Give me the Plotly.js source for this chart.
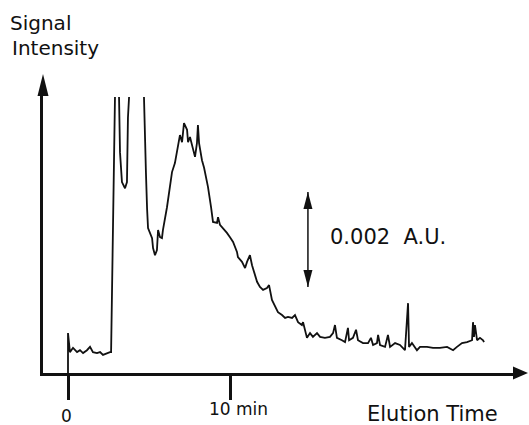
<!DOCTYPE html>
<html>
<head>
<meta charset="utf-8">
<script src="https://cdn.plot.ly/plotly-3.0.1.min.js"></script>
<style>
  html, body { margin: 0; padding: 0; background: #ffffff; }
  #chart { width: 529px; height: 425px; }
</style>
</head>
<body>
<div id="chart"></div>
<script>
// Elution time (min) and detector signal (mAU); null = off-scale (clipped) part of the trace
const elutionTime = [0, 0, 0.12, 0.31, 0.56, 0.74, 0.93, 1.17, 1.36, 1.54,
  1.79, 1.98, 2.16, 2.41, 2.59, 2.66, 2.72, 2.84, 2.90, 3.02,
  3.15, 3.21, 3.33, 3.52, 3.64, 3.70, 3.77, 4.20, 4.69, 4.75,
  4.81, 4.88, 4.94, 5.19, 5.25, 5.37, 5.49, 5.56, 5.68, 5.80,
  5.86, 6.11, 6.30, 6.42, 6.60, 6.79, 6.91, 7.04, 7.16, 7.35,
  7.41, 7.53, 7.72, 7.84, 7.96, 8.02, 8.09, 8.27, 8.40, 8.52,
  8.64, 8.83, 8.95, 9.20, 9.26, 9.38, 9.57, 9.81, 10.00, 10.19,
  10.43, 10.49, 10.74, 10.93, 11.05, 11.23, 11.36, 11.54, 11.67, 11.85,
  12.04, 12.28, 12.41, 12.59, 12.78, 12.96, 13.21, 13.40, 13.58, 13.83,
  14.01, 14.20, 14.44, 14.51, 14.75, 14.94, 15.12, 15.37, 15.56, 15.86,
  16.17, 16.36, 16.48, 16.60, 16.91, 17.10, 17.28, 17.35, 17.59, 17.78,
  17.90, 18.21, 18.52, 18.70, 18.83, 19.07, 19.14, 19.26, 19.57, 19.75,
  19.88, 20.19, 20.49, 20.80, 20.99, 21.05, 21.23, 21.54, 21.73, 22.16,
  22.53, 22.96, 23.40, 23.77, 24.01, 24.32, 24.63, 24.94, 25.00, 25.06,
  25.12, 25.25, 25.43, 25.62, 25.68];

const signal = [0, 0.84, 0.44, 0.53, 0.44, 0.48, 0.42, 0.48, 0.55, 0.44,
  0.42, 0.44, 0.38, 0.42, 0.44, 0.44, 2.06, 4.59, 5.81, null,
  5.81, 4.65, 4.02, 3.89, 4.02, 5.37, 5.81, null, 5.81, 4.80,
  4.23, 3.47, 3.05, 2.84, 2.63, 2.48, 2.59, 3.01, 2.86, 2.84,
  3.01, 3.49, 3.92, 4.23, 4.42, 4.84, 5.01, 4.86, 5.26, 5.12,
  4.86, 4.97, 4.69, 4.55, 4.84, 5.22, 4.84, 4.48, 4.32, 4.11,
  3.92, 3.49, 3.18, 3.16, 3.28, 3.12, 3.05, 2.95, 2.86, 2.76,
  2.55, 2.44, 2.34, 2.21, 2.34, 2.48, 2.27, 2.06, 1.92, 1.81,
  1.75, 1.79, 1.85, 1.54, 1.39, 1.28, 1.22, 1.16, 1.18, 1.16,
  1.22, 1.07, 1.01, 1.07, 0.74, 0.84, 0.76, 0.84, 0.76, 0.74,
  0.76, 0.84, 1.01, 0.74, 0.69, 0.65, 0.95, 0.69, 0.74, 0.91,
  0.69, 0.63, 0.63, 0.74, 0.59, 0.63, 0.80, 0.59, 0.55, 0.80,
  0.55, 0.63, 0.59, 0.48, 1.47, 0.55, 0.63, 0.48, 0.55, 0.55,
  0.53, 0.53, 0.55, 0.48, 0.55, 0.63, 0.65, 0.69, 1.07, 0.76,
  1.01, 0.69, 0.74, 0.69, 0.65];

// Tick labels
const tickValues = [0, 10];
const tickLabels = ["0", "10 min"];

// Scale bar: 0.002 A.U. = 2 mAU
const scaleBarTime = 14.81;
const scaleBarRange = [1.81, 3.81];
const scaleBarLabel = "0.002\u00a0 A.U.";

const axisTitleX = "Elution Time";
const axisTitleY = ["Signal", "Intensity"];

const FONT = "DejaVu Sans, sans-serif";
const INK = "#111111";

const trace = {
  x: elutionTime,
  y: signal,
  type: "scatter",
  mode: "lines",
  connectgaps: false,
  line: { color: INK, width: 1.8 },
  hoverinfo: "skip"
};

const shapes = [
  // y-axis arrowhead
  { type: "path", xref: "paper", yref: "paper", xsizemode: "pixel", ysizemode: "pixel",
    xanchor: 0, yanchor: 1, path: "M -5.5,-1 L 0,21 L 5.5,-1 Z",
    fillcolor: INK, line: { width: 0 } },
  // x-axis arrowhead
  { type: "path", xref: "paper", yref: "paper", xsizemode: "pixel", ysizemode: "pixel",
    xanchor: 1, yanchor: 0, path: "M -1,6.5 L 14,0 L -1,-6.5 Z",
    fillcolor: INK, line: { width: 0 } },
  // scale bar line
  { type: "line", xref: "x", yref: "y", x0: scaleBarTime, x1: scaleBarTime,
    y0: scaleBarRange[0], y1: scaleBarRange[1], line: { color: INK, width: 1.5 } },
  // scale bar arrowheads
  { type: "path", xref: "x", yref: "y", xsizemode: "pixel", ysizemode: "pixel",
    xanchor: scaleBarTime, yanchor: scaleBarRange[1], path: "M 0,0 L -4.5,-17 L 4.5,-17 Z",
    fillcolor: INK, line: { width: 0 } },
  { type: "path", xref: "x", yref: "y", xsizemode: "pixel", ysizemode: "pixel",
    xanchor: scaleBarTime, yanchor: scaleBarRange[0], path: "M 0,0 L -4.5,17 L 4.5,17 Z",
    fillcolor: INK, line: { width: 0 } }
];

const annotations = [
  { text: axisTitleY[0], xref: "paper", yref: "paper", x: 0, y: 1, xanchor: "left", yanchor: "middle",
    xshift: -35, yshift: 72, showarrow: false, font: { family: FONT, size: 20, color: INK } },
  { text: axisTitleY[1], xref: "paper", yref: "paper", x: 0, y: 1, xanchor: "left", yanchor: "middle",
    xshift: -33, yshift: 47, showarrow: false, font: { family: FONT, size: 20, color: INK } },
  { text: axisTitleX, xref: "paper", yref: "paper", x: 1, y: 0, xanchor: "right", yanchor: "middle",
    xshift: -14, yshift: -41, showarrow: false, font: { family: FONT, size: 21, color: INK } },
  { text: tickLabels[0], xref: "x", yref: "paper", x: tickValues[0], y: 0, xanchor: "center", yanchor: "middle",
    xshift: -2, yshift: -43, showarrow: false, font: { family: FONT, size: 17, color: INK } },
  { text: tickLabels[1], xref: "x", yref: "paper", x: tickValues[1], y: 0, xanchor: "left", yanchor: "middle",
    xshift: -23, yshift: -36, showarrow: false, font: { family: FONT, size: 17, color: INK } },
  { text: scaleBarLabel, xref: "x", yref: "y", x: scaleBarTime, y: (scaleBarRange[0] + scaleBarRange[1]) / 2,
    xanchor: "left", yanchor: "middle", xshift: 20, yshift: 3, showarrow: false,
    font: { family: FONT, size: 21, color: INK } }
];

const layout = {
  width: 529,
  height: 425,
  margin: { l: 43, r: 15, t: 95, b: 52, pad: 0 },
  paper_bgcolor: "#ffffff",
  plot_bgcolor: "#ffffff",
  showlegend: false,
  font: { family: FONT, color: INK },
  xaxis: {
    range: [-1.543, 27.53],
    showgrid: false, zeroline: false,
    showline: true, linecolor: INK, linewidth: 3,
    tickmode: "array", tickvals: tickValues, ticktext: tickLabels,
    showticklabels: false,
    ticks: "outside", ticklen: 24, tickwidth: 3, tickcolor: INK,
    fixedrange: true
  },
  yaxis: {
    range: [0, 5.853],
    showgrid: false, zeroline: false,
    showline: true, linecolor: INK, linewidth: 3,
    ticks: "", showticklabels: false,
    fixedrange: true
  },
  shapes: shapes,
  annotations: annotations
};

Plotly.newPlot("chart", [trace], layout, { displayModeBar: false, staticPlot: true });
</script>
</body>
</html>
